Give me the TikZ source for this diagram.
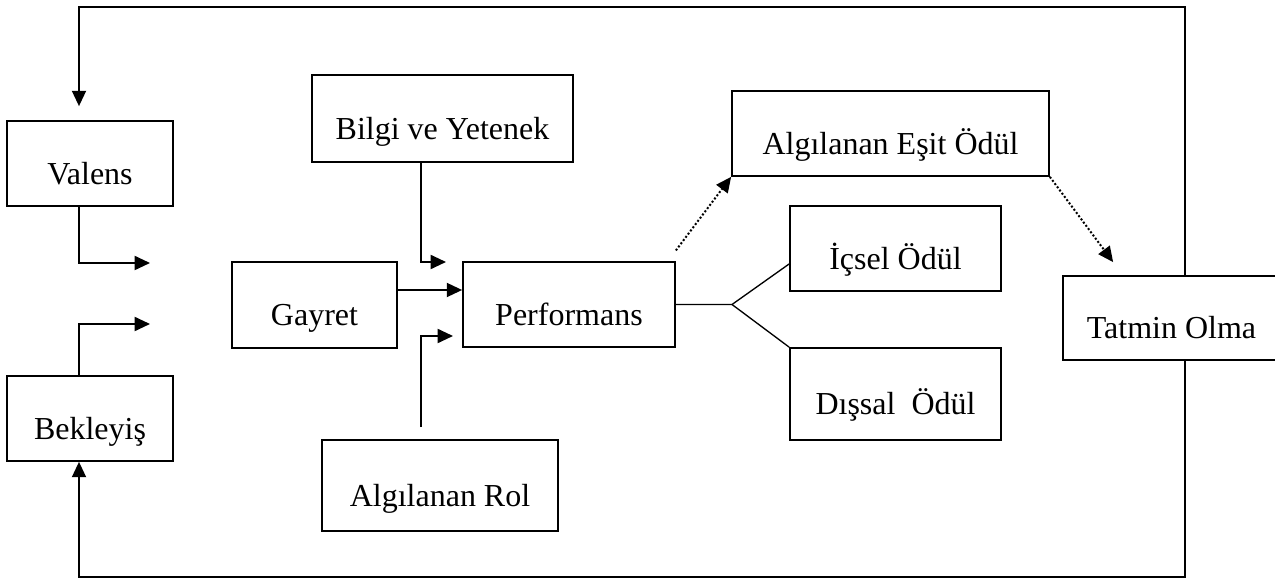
\documentclass[tikz,border=0pt]{standalone}
\usepackage{fontspec}
\setmainfont{Liberation Serif}
\usetikzlibrary{arrows.meta}

\begin{document}
\begin{tikzpicture}[x=0.75pt,y=-0.75pt,
	box/.style 2 args={draw,line width=1.3pt,minimum width=#1*0.75pt,minimum height=#2*0.75pt,
		inner sep=0pt,text height=31.5pt,text depth=0pt,font=\fontsize{24}{28}\selectfont},
	arr/.style={-{Triangle[length=11.5pt,width=10.5pt]},line width=1.4pt},
	dotarr/.style={arr,line width=1.5pt,dash pattern=on 1.5pt off 1.5pt},
	link/.style={line width=1pt}]
	\useasboundingbox (0,0) rectangle (1275,580);
	% boxes
	\node[box={166}{85}] (valens) at (90,163.5) {Valens};
	\node[box={166}{85}] (bekleyis) at (90,418.5) {Bekleyiş};
	\node[box={261}{87}] (bilgi) at (442.5,118.5) {Bilgi ve Yetenek};
	\node[box={165}{86}] (gayret) at (314.5,305) {Gayret};
	\node[box={212}{85}] (perf) at (569,304.5) {Performans};
	\node[box={236}{91}] (rol) at (440,485.5) {Algılanan Rol};
	\node[box={317}{85}] (esit) at (890.5,133.5) {Algılanan Eşit Ödül};
	\node[box={211}{85}] (icsel) at (895.5,248.5) {İçsel Ödül};
	\node[box={211}{92}] (dissal) at (895.5,394) {Dışsal\ \ Ödül};
	\node[box={217}{84}] (tatmin) at (1171.5,318) {Tatmin Olma};
	% corners and free ends
	\coordinate (tl) at (79,7);
	\coordinate (tr) at (1185,7);
	\coordinate (bl) at (79,577);
	\coordinate (br) at (1185,577);
	\coordinate (vtip) at (150,263);
	\coordinate (btip) at (150,324);
	\coordinate (bgcorner) at (421,262);
	\coordinate (bgtip) at (446,262);
	\coordinate (rlcorner) at (421,336);
	\coordinate (rltip) at (453,336);
	\coordinate (fork) at (732,304.5);
	% feedback loop
	\draw[arr,shorten >=10.5pt] (tatmin.north -| tr) -- (tr) -- (tl) -- (tl |- valens.north);
	\draw[arr] (tatmin.south -| br) -- (br) -- (bl) -- (bl |- bekleyis.south);
	\draw[arr] (valens.south -| tl) |- (vtip);
	\draw[arr] (bekleyis.north -| tl) |- (btip);
	% into performance
	\draw[arr] (bilgi.south -| bgcorner) -- (bgcorner) -- (bgtip);
	\draw[arr] ([yshift=11.25pt]gayret.east) -- ([yshift=11.25pt]gayret.east -| perf.west);
	\draw[arr] ([yshift=9pt]rol.north -| rlcorner) -- (rlcorner) -- (rltip);
	% rewards
	\draw[link] (perf.east) -- (fork) -- ([yshift=-11.6pt]icsel.west);
	\draw[link] (fork) -- (dissal.north west);
	\draw[dotarr] ([yshift=8pt]perf.north east) -- (esit.south west);
	\draw[dotarr] (esit.south east) -- ([xshift=38.25pt,yshift=9.75pt]tatmin.north west);
\end{tikzpicture}
\end{document}
